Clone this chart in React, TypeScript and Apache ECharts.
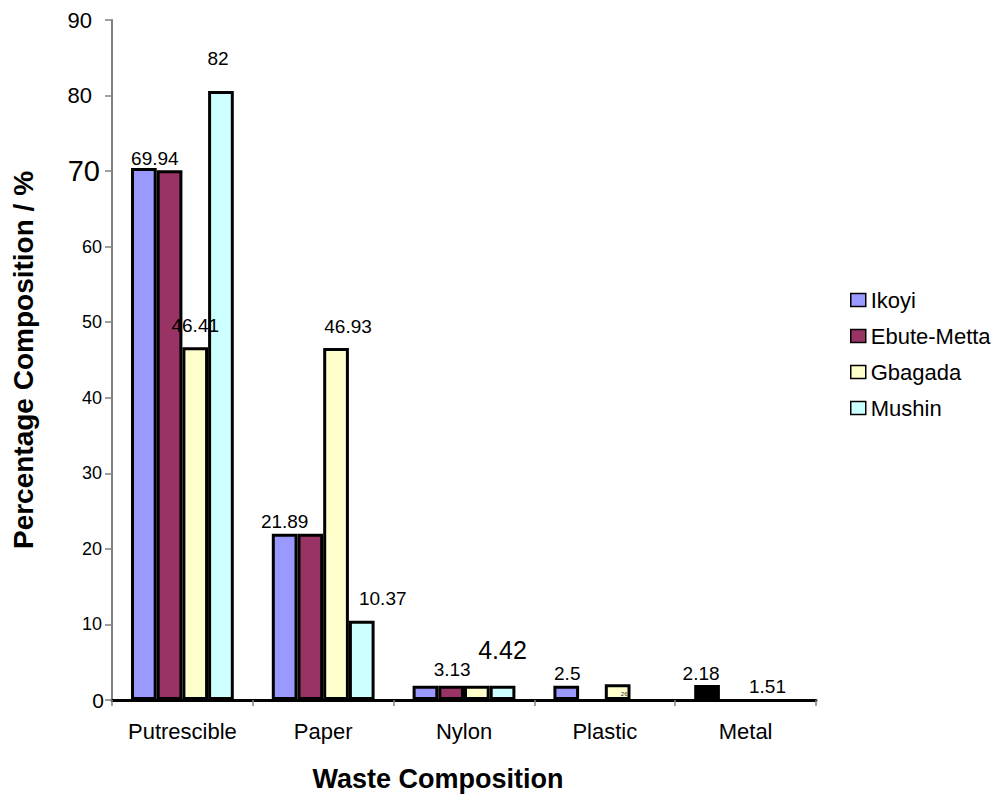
import React, { useEffect, useRef } from "react";
import * as echarts from "echarts";

// ---- data ----
const categories = ["Putrescible", "Paper", "Nylon", "Plastic", "Metal"];
const seriesNames = ["Ikoyi", "Ebute-Metta", "Gbagada", "Mushin"];
const ikoyi = [70.4, 22.0, 1.9, 1.9, 2.0];
const ebuteMetta = [70.1, 22.0, 1.9, 0, 0];
const gbagada = [46.7, 46.6, 1.9, 2.1, 0];
const mushin = [80.6, 10.5, 1.9, 0, 0];
const ikoyiLabels = ["69.94", "21.89", "", "2.5", "2.18"];
const ebuteMettaLabels = ["", "", "3.13", "", ""];
const gbagadaLabels = ["46.41", "46.93", "", "26", "1.51"];
const mushinLabels = ["82", "10.37", "4.42", "", ""];
const yTicks = [0, 10, 20, 30, 40, 50, 60, 70, 80, 90];

// ---- styles ----
const FONT = "'Liberation Sans', Arial, sans-serif";
const colors = ["#9999FF", "#993366", "#FFFFCC", "#CCFFFF"];
const blackBar = { series: "Ikoyi", index: 4 };
const labelLayout: Record<string, { dx?: number; distance?: number; fontSize?: number; inside?: boolean }> = {
  "Ikoyi-0": { dx: 11, distance: 0 },
  "Ikoyi-1": { dx: 0, distance: 3 },
  "Ikoyi-3": { dx: 1, distance: 3 },
  "Ikoyi-4": { dx: -6, distance: 2 },
  "Ebute-Metta-2": { dx: 1, distance: 7 },
  "Gbagada-0": { dx: 0, distance: 12 },
  "Gbagada-1": { dx: 12, distance: 12 },
  "Gbagada-3": { inside: true, fontSize: 6 },
  "Gbagada-4": { dx: 9, distance: 4 },
  "Mushin-0": { dx: -3, distance: 23 },
  "Mushin-1": { dx: 21, distance: 13 },
  "Mushin-2": { dx: 0, distance: 23, fontSize: 25 },
};
const yLabelStyle: Record<number, { fontSize: number; pad: number }> = {
  0: { fontSize: 21, pad: 0 },
  10: { fontSize: 18, pad: 2 },
  20: { fontSize: 18, pad: 2 },
  30: { fontSize: 18, pad: 2 },
  40: { fontSize: 18, pad: 2 },
  50: { fontSize: 18, pad: 2 },
  60: { fontSize: 18, pad: 2 },
  70: { fontSize: 29, pad: 4 },
  80: { fontSize: 22, pad: 12 },
  90: { fontSize: 22, pad: 12 },
};

export default function App() {
  const ref = useRef<HTMLDivElement>(null);
  useEffect(() => {
    if (!ref.current) return;
    const chart = echarts.init(ref.current, undefined, { renderer: "svg" });
    const allValues = [ikoyi, ebuteMetta, gbagada, mushin];
    const allLabels = [ikoyiLabels, ebuteMettaLabels, gbagadaLabels, mushinLabels];

    const series = seriesNames.map((name, si) => ({
      name,
      type: "bar",
      barGap: "0%",
      barCategoryGap: "27%",
      itemStyle: { color: colors[si], borderColor: "#000", borderWidth: 3 },
      data: allValues[si].map((v, i) => {
        const item: any = { value: v };
        if (v === 0) item.itemStyle = { borderWidth: 0 };
        if (name === blackBar.series && i === blackBar.index) item.itemStyle = { color: "#000000" };
        const text = allLabels[si][i];
        if (text) {
          const lay = labelLayout[`${name}-${i}`] || {};
          if (lay.inside) {
            item.label = {
              show: true,
              formatter: text,
              position: "insideBottomRight",
              distance: 3,
              fontSize: lay.fontSize || 6,
              color: "#333",
              fontFamily: FONT,
            };
          } else {
            item.label = {
              show: true,
              formatter: text,
              position: "top",
              distance: lay.distance ?? 5,
              offset: [lay.dx || 0, 0],
              fontSize: lay.fontSize || 19,
              color: "#000",
              fontFamily: FONT,
            };
          }
        }
        return item;
      }),
    }));

    const rich: Record<string, any> = {};
    yTicks.forEach((t) => {
      const s = yLabelStyle[t];
      rich["s" + t] = { fontSize: s.fontSize, padding: [0, s.pad, 0, 0], color: "#000", fontFamily: FONT };
    });

    chart.setOption({
      animation: false,
      backgroundColor: "#fff",
      textStyle: { fontFamily: FONT },
      grid: { left: 112, right: 181, top: 20, bottom: 95 },
      legend: {
        orient: "vertical",
        left: 845,
        top: 284,
        itemGap: 14,
        itemWidth: 15,
        itemHeight: 13,
        icon: "rect",
        itemStyle: { borderColor: "#000", borderWidth: 1.5 },
        textStyle: { fontSize: 22, color: "#000", fontFamily: FONT, padding: [4, 0, 0, 0] },
        data: seriesNames,
      },
      xAxis: {
        type: "category",
        data: categories,
        axisLine: { lineStyle: { color: "#000", width: 3 } },
        axisTick: { show: true, length: 6, lineStyle: { color: "#808080", width: 1.5 } },
        axisLabel: { interval: 0, fontSize: 22, color: "#000", margin: 20, fontFamily: FONT },
      },
      yAxis: {
        type: "value",
        min: 0,
        max: 90,
        interval: 10,
        name: "Percentage Composition / %",
        nameLocation: "middle",
        nameGap: 75,
        nameRotate: 90,
        nameTextStyle: { fontSize: 28, fontWeight: "bold", color: "#000", fontFamily: FONT },
        axisLine: { show: true, lineStyle: { color: "#808080", width: 2 } },
        axisTick: { show: true, length: 7, lineStyle: { color: "#808080", width: 1.5 } },
        splitLine: { show: false },
        axisLabel: {
          margin: 8,
          formatter: (v: number) => `{s${v}|${v}}`,
          rich,
        },
      },
      graphic: [
        {
          type: "text",
          x: 438,
          y: 779,
          style: {
            text: "Waste Composition",
            fontSize: 27,
            fontWeight: "bold",
            fill: "#000",
            fontFamily: FONT,
            textAlign: "center",
            textVerticalAlign: "middle",
          },
        },
      ],
      series,
    });
    return () => chart.dispose();
  }, []);
  return (
    <div
      ref={ref}
      style={{ position: "fixed", left: 0, top: 0, width: 997, height: 795, background: "#fff" }}
    />
  );
}
